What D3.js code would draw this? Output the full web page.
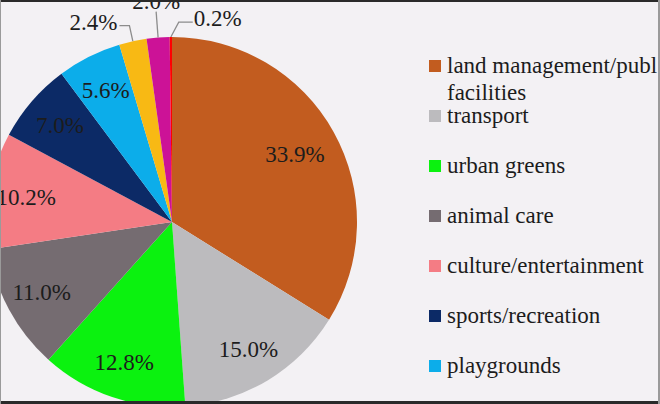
<!DOCTYPE html>
<html>
<head>
<meta charset="utf-8">
<script src="https://cdn.jsdelivr.net/npm/d3@7"></script>
<style>
  html, body { margin: 0; padding: 0; background: #f3f1f4; }
  svg { display: block; }
</style>
</head>
<body>
<div id="chart_div"></div>
<script>
var chart_width = 660;
var chart_height = 404;

// slices, clockwise from 12 o'clock
var categories = ["land management/public facilities", "transport", "urban greens",
    "animal care", "culture/entertainment", "sports/recreation", "playgrounds",
    "other 1", "other 2", "other 3"];
var shares = [33.9, 15.0, 12.8, 11.0, 10.2, 7.0, 5.6, 2.4, 2.0, 0.2];
var share_labels = ["33.9%", "15.0%", "12.8%", "11.0%", "10.2%", "7.0%", "5.6%", "2.4%", "2.0%", "0.2%"];
var colours = ["#c25c1f", "#bcbbbe", "#0bf20f", "#756c71", "#f47c84", "#0c2a66",
    "#0cadea", "#f8b914", "#cc1297", "#ff0000"];

// legend only shows the first seven (rest is cut off in the picture)
var legend_lines = [["land management/publ", "facilities"], ["transport"], ["urban greens"],
    ["animal care"], ["culture/entertainment"], ["sports/recreation"], ["playgrounds"]];

var cx = 172, cy = 222, radius = 185;
var label_radius = 148;
var label_font = 23;
var font_name = "'Liberation Serif'";

var svg = d3.select("#chart_div")
    .append("svg")
    .attr("width", chart_width)
    .attr("height", chart_height);

svg.append("rect")
    .attr("width", chart_width)
    .attr("height", chart_height)
    .style("fill", "#f3f1f4");

var pie = d3.pie().sort(null).value(function(d) { return d; });
var arcs = pie(shares);

var arc = d3.arc().innerRadius(0).outerRadius(radius);
var label_arc = d3.arc().innerRadius(label_radius).outerRadius(label_radius);

var pie_g = svg.append("g")
    .attr("transform", "translate(" + cx + "," + cy + ")");

pie_g.selectAll("path")
    .data(arcs)
    .enter()
    .append("path")
    .attr("d", arc)
    .style("fill", function(d, i) { return colours[i]; });

// labels inside the big slices
pie_g.selectAll("text.inner")
    .data(arcs.slice(0, 7))
    .enter()
    .append("text")
    .attr("class", "inner")
    .attr("transform", function(d, i) {
        var c = label_arc.centroid(d);
        if (i == 0) { c = [c[0] * 0.95, c[1] * 0.95]; }
        return "translate(" + c[0] + "," + c[1] + ")";
    })
    .attr("text-anchor", "middle")
    .attr("dy", "0.35em")
    .style("font-family", font_name)
    .style("font-size", label_font + "px")
    .style("fill", "#1c1c1c")
    .text(function(d, i) { return share_labels[i]; });

// small slices get a leader line and an outside label
function point_at(angle, r) {
    return [r * Math.sin(angle), -r * Math.cos(angle)];
}

var outer_specs = [
    { idx: 7, r1: 201, turn: 0, run: -10, anchor: "end", dy: 4 },
    { idx: 8, r1: 211, turn: 0, run: 0, anchor: "middle", dy: -3 },
    { idx: 9, r1: 200, turn: 0.04, run: 14, anchor: "start", dy: 4 }
];

outer_specs.forEach(function(spec) {
    var d = arcs[spec.idx];
    var mid = (d.startAngle + d.endAngle) / 2;
    var p0 = point_at(mid, radius);
    var p1 = point_at(mid + spec.turn, spec.r1);
    var p2 = [p1[0] + spec.run, p1[1]];
    pie_g.append("polyline")
        .attr("points", [p0, p1, p2].map(function(p) { return p.join(","); }).join(" "))
        .style("fill", "none")
        .style("stroke", "#8c8c8c")
        .style("stroke-width", 1.3);
    pie_g.append("text")
        .attr("x", p2[0] + (spec.run < 0 ? -2 : (spec.run > 0 ? 1 : 0)))
        .attr("y", p2[1] + spec.dy)
        .attr("text-anchor", spec.anchor)
        .style("font-family", font_name)
        .style("font-size", label_font + "px")
        .style("fill", "#1c1c1c")
        .text(share_labels[spec.idx]);
});

// legend
var legend_y = d3.scaleLinear().domain([0, 1]).range([73, 123]);
var legend = svg.append("g");
var entries = legend.selectAll("g")
    .data(legend_lines)
    .enter()
    .append("g")
    .attr("transform", function(d, i) { return "translate(429," + legend_y(i) + ")"; });

entries.append("rect")
    .attr("x", 0)
    .attr("y", -13)
    .attr("width", 12)
    .attr("height", 12)
    .style("fill", function(d, i) { return colours[i]; });

entries.append("text")
    .attr("x", 18)
    .style("font-family", font_name)
    .style("font-size", label_font + "px")
    .style("fill", "#1c1c1c")
    .selectAll("tspan")
    .data(function(d) { return d; })
    .enter()
    .append("tspan")
    .attr("x", 18)
    .attr("dy", function(d, i) { return i == 0 ? 0 : 27; })
    .text(function(d) { return d; });

// frame lines round the image
svg.append("line").attr("x1", 0).attr("x2", chart_width).attr("y1", 1).attr("y2", 1)
    .style("stroke", "#2a2a2a").style("stroke-width", 2);
svg.append("line").attr("x1", 0).attr("x2", chart_width).attr("y1", 402.5).attr("y2", 402.5)
    .style("stroke", "#2a2a2a").style("stroke-width", 3);
svg.append("line").attr("x1", 0.5).attr("x2", 0.5).attr("y1", 0).attr("y2", chart_height)
    .style("stroke", "#9a9a9a").style("stroke-width", 1);
svg.append("line").attr("x1", 659).attr("x2", 659).attr("y1", 0).attr("y2", chart_height)
    .style("stroke", "#9a9a9a").style("stroke-width", 2);
</script>
</body>
</html>
